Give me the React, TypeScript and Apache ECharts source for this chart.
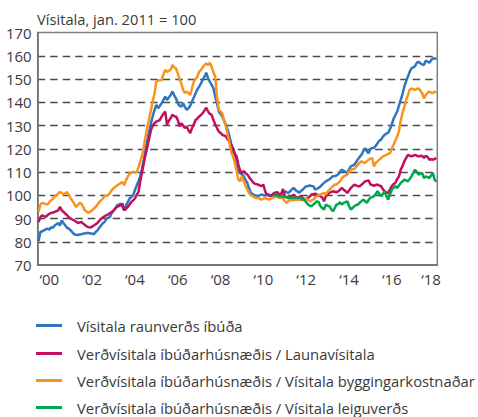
import React, { useEffect, useRef } from "react";
import * as echarts from "echarts";

const FONT = "'Open Sans', sans-serif";
const TEXT = "#3a3a3a";

const startYear = 2000;
const endYear = 2018;
const monthsInLastYear = 8;

const seriesNames = [
  "Vísitala raunverðs íbúða",
  "Verðvísitala íbúðarhúsnæðis / Launavísitala",
  "Verðvísitala íbúðarhúsnæðis / Vísitala byggingarkostnaðar",
  "Verðvísitala íbúðarhúsnæðis / Vísitala leiguverðs",
];
const colors = ["#2f75c0", "#c1105e", "#f7941d", "#00a54f"];

// Vísitala raunverðs íbúða (monthly, Jan 2000 – Aug 2018)
const realPrice = [
  80.3, 84.2, 84.5, 84.9, 85.3, 85.6, 85.2, 86.3, 86.0, 87.0, 87.5, 88.1,
  87.0, 89.2, 88.0, 87.0, 86.0, 85.6, 84.9, 84.0, 83.2, 83.0, 82.9, 83.1,
  83.2, 83.5, 83.5, 83.8, 83.8, 83.5, 83.5, 83.2, 84.2, 84.9, 86.0, 87.0,
  88.0, 88.5, 89.9, 90.3, 90.7, 92.4, 93.3, 94.3, 95.7, 96.0, 96.4, 95.0,
  93.5, 95.7, 97.0, 98.6, 99.2, 100.0, 102.2, 104.2, 106.0, 108.1, 111.5, 115.3,
  119.5, 123.9, 127.5, 131.0, 134.0, 136.7, 138.9, 137.4, 138.5, 139.6, 141.0, 142.4,
  141.0, 142.0, 143.1, 144.6, 143.0, 141.7, 139.6, 138.5, 138.1, 139.6, 138.0, 136.7,
  137.4, 138.5, 140.3, 142.0, 143.9, 145.5, 146.7, 148.1, 149.6, 151.0, 152.7, 150.3,
  148.9, 147.5, 146.0, 142.5, 139.6, 136.0, 135.0, 133.9, 132.0, 130.3, 128.0, 125.3,
  122.0, 119.0, 116.5, 114.0, 110.4, 109.5, 108.9, 108.2, 106.5, 105.3, 103.0, 101.0,
  100.5, 100.0, 99.8, 99.6, 100.0, 100.3, 100.1, 100.0, 100.2, 100.3, 99.9, 99.6,
  100.0, 100.0, 100.3, 100.5, 100.7, 101.2, 101.7, 101.3, 101.0, 101.7, 102.5, 103.2,
  102.2, 101.7, 101.0, 101.8, 102.4, 103.2, 103.9, 104.0, 104.2, 104.0, 103.9, 102.4,
  102.8, 103.2, 103.8, 104.6, 105.3, 106.0, 106.4, 106.8, 107.5, 108.2, 108.3, 108.5,
  109.0, 110.2, 111.0, 110.5, 110.0, 109.6, 111.0, 112.4, 112.8, 113.1, 114.2, 115.5,
  116.5, 117.4, 119.0, 120.3, 119.0, 118.1, 120.0, 120.3, 120.3, 121.3, 122.4, 123.5,
  123.9, 125.2, 126.0, 126.5, 126.9, 128.5, 130.5, 133.0, 134.5, 136.0, 138.5, 141.0,
  143.5, 146.7, 149.0, 151.0, 153.0, 154.6, 155.0, 155.5, 157.0, 157.4, 156.7, 156.3,
  156.0, 157.9, 157.5, 157.0, 158.0, 158.9, 158.7, 158.9,
];

// Verðvísitala íbúðarhúsnæðis / Launavísitala
const priceToWage = [
  88.5, 90.5, 91.4, 91.0, 90.7, 91.5, 92.0, 92.4, 92.6, 92.8, 93.2, 93.5,
  95.0, 93.5, 92.8, 92.0, 91.4, 90.5, 89.9, 89.5, 89.2, 88.6, 88.1, 88.3,
  88.5, 87.8, 87.2, 86.6, 86.3, 86.1, 86.5, 87.0, 87.5, 88.1, 89.0, 89.9,
  90.4, 91.0, 91.4, 91.8, 92.3, 92.8, 93.5, 94.3, 95.0, 95.3, 95.8, 96.4,
  93.5, 94.2, 95.0, 96.0, 97.1, 97.8, 98.6, 100.2, 101.5, 106.0, 110.0, 113.9,
  117.5, 121.0, 124.5, 128.1, 130.0, 131.0, 131.7, 132.0, 132.4, 133.9, 135.0, 136.0,
  130.3, 132.0, 133.1, 134.6, 134.0, 133.9, 132.4, 129.6, 131.0, 130.0, 128.9, 129.6,
  128.0, 126.7, 128.9, 130.5, 132.4, 133.0, 133.9, 134.5, 135.3, 136.5, 137.6, 136.0,
  135.0, 134.6, 132.4, 130.5, 128.9, 127.4, 126.8, 126.0, 125.7, 125.3, 124.0, 123.1,
  121.5, 120.3, 118.0, 116.7, 113.1, 110.5, 109.6, 110.4, 109.5, 108.9, 107.8, 106.8,
  105.8, 105.0, 104.8, 104.6, 104.2, 103.9, 104.6, 101.7, 100.3, 100.0, 99.6, 100.3,
  101.0, 101.2, 101.3, 100.0, 100.5, 102.7, 99.6, 99.2, 98.8, 99.2, 99.6, 100.3,
  99.5, 98.8, 99.2, 99.6, 98.8, 98.1, 98.5, 98.8, 99.5, 100.3, 100.5, 100.7,
  100.3, 99.9, 99.6, 99.0, 97.4, 99.6, 100.3, 101.0, 101.4, 101.7, 101.5, 101.3,
  101.7, 102.4, 103.1, 102.4, 101.8, 101.0, 102.0, 103.1, 103.8, 104.6, 104.2, 103.9,
  103.9, 104.5, 105.2, 106.0, 106.2, 106.4, 104.6, 104.4, 104.1, 104.4, 104.6, 104.2,
  103.9, 102.5, 101.7, 101.2, 101.0, 102.5, 103.9, 104.8, 105.3, 107.0, 108.1, 111.0,
  112.5, 114.6, 116.0, 117.4, 117.0, 116.7, 117.0, 117.4, 117.0, 116.7, 116.9, 117.0,
  116.0, 117.0, 116.5, 115.3, 115.5, 115.3, 115.6, 116.0,
];

// Verðvísitala íbúðarhúsnæðis / Vísitala byggingarkostnaðar
const priceToBuild = [
  92.8, 96.0, 96.7, 96.5, 96.2, 96.0, 97.0, 97.8, 98.5, 99.3, 100.0, 100.7,
  101.4, 101.0, 100.4, 100.8, 101.4, 100.0, 98.6, 97.5, 96.4, 95.0, 95.8, 96.7,
  96.4, 95.0, 93.5, 93.0, 92.4, 93.0, 93.5, 94.3, 95.0, 96.0, 97.1, 97.8,
  98.6, 99.6, 99.8, 100.0, 101.0, 102.2, 103.0, 103.6, 104.2, 104.7, 105.2, 105.7,
  104.3, 106.5, 108.0, 109.3, 109.8, 110.0, 109.8, 110.0, 112.0, 114.6, 117.0, 121.0,
  125.5, 129.6, 133.0, 136.7, 140.5, 143.9, 148.9, 149.3, 149.5, 149.6, 152.0, 153.9,
  153.1, 153.5, 153.9, 156.0, 155.0, 154.6, 152.4, 150.0, 148.1, 145.3, 143.9, 144.6,
  144.0, 143.1, 146.0, 148.9, 150.0, 151.0, 153.1, 153.9, 155.0, 156.0, 156.7, 156.0,
  157.0, 155.3, 153.0, 151.0, 142.4, 136.7, 136.0, 135.3, 132.0, 129.6, 126.0, 122.4,
  118.5, 116.7, 114.0, 110.5, 106.7, 106.0, 108.2, 106.0, 103.9, 102.5, 101.0, 100.0,
  99.6, 99.2, 98.8, 98.8, 98.5, 98.1, 98.5, 98.8, 98.5, 98.1, 98.5, 98.8,
  99.2, 99.6, 99.2, 98.8, 98.8, 98.8, 97.5, 96.7, 97.5, 98.1, 97.8, 97.9,
  98.1, 98.1, 98.1, 97.9, 97.8, 98.3, 98.8, 98.0, 97.4, 97.8, 98.1, 99.0,
  99.6, 100.0, 100.3, 100.6, 101.0, 100.3, 101.5, 102.4, 103.2, 103.9, 104.6, 104.6,
  105.3, 106.0, 107.4, 108.1, 108.5, 108.9, 110.0, 111.0, 111.2, 111.3, 112.2, 113.1,
  114.0, 114.6, 114.2, 113.9, 114.6, 115.3, 115.7, 116.0, 112.4, 113.9, 114.6, 115.3,
  116.0, 116.7, 117.0, 117.4, 117.8, 118.1, 120.0, 121.7, 123.5, 125.3, 127.5, 132.0,
  135.3, 138.0, 141.0, 143.0, 145.3, 146.0, 145.6, 145.3, 145.7, 146.0, 145.0, 143.9,
  141.7, 143.1, 144.0, 144.6, 144.2, 143.9, 144.6, 144.2,
];

// Verðvísitala íbúðarhúsnæðis / Vísitala leiguverðs (from Jan 2011)
const rentStartYear = 2011;
const priceToRent = [
  100.0, 100.0, 99.8, 99.6, 99.6, 99.4, 99.3, 99.1, 99.0, 99.0, 98.8, 98.8,
  98.9, 98.8, 98.8, 98.8, 98.3, 98.1, 97.0, 96.0, 95.5, 95.3, 96.0, 96.7,
  97.4, 97.0, 95.3, 94.5, 93.8, 96.0, 95.5, 95.3, 94.0, 93.1, 94.5, 96.0,
  96.2, 97.0, 96.0, 96.7, 97.0, 97.4, 95.5, 93.9, 94.5, 95.3, 95.8, 96.0,
  96.8, 97.4, 98.1, 97.5, 96.7, 98.0, 98.9, 99.2, 99.6, 100.5, 101.7, 100.5,
  99.6, 100.5, 101.7, 99.5, 98.1, 100.5, 102.4, 103.2, 103.9, 103.1, 104.2, 105.3,
  106.0, 106.7, 106.4, 106.0, 107.0, 108.1, 109.5, 111.0, 110.0, 108.9, 109.2, 109.6,
  107.4, 108.1, 107.8, 107.4, 108.5, 109.6, 106.7, 105.8,
];

const yMin = 70;
const yMax = 170;
const yStep = 10;

const categories: string[] = [];
for (let y = startYear; y <= endYear; y++) {
  const n = y === endYear ? monthsInLastYear : 12;
  for (let m = 1; m <= n; m++) categories.push(`${y}-${String(m).padStart(2, "0")}`);
}
const rentPadded: (number | null)[] = [];
for (let i = 0; i < (rentStartYear - startYear) * 12; i++) rentPadded.push(null);
priceToRent.forEach((v) => rentPadded.push(v));

const lastYearLabelIndex = (endYear - startYear) * 12 + Math.floor(monthsInLastYear / 2);

export default function App() {
  const ref = useRef<HTMLDivElement>(null);
  useEffect(() => {
    if (!ref.current) return;
    const chart = echarts.init(ref.current, null, { renderer: "svg" });
    const data = [realPrice, priceToWage, priceToBuild, rentPadded];
    const legendTops = [318, 346, 373, 400];
    chart.setOption({
      animation: false,
      textStyle: { fontFamily: FONT },
      title: {
        text: "Vísitala, jan. 2011 = 100",
        left: 32,
        top: 6,
        textStyle: { fontFamily: FONT, fontSize: 14.7, fontWeight: "normal", color: TEXT },
      },
      legend: seriesNames.map((name, i) => ({
        data: [name],
        orient: "vertical",
        left: 36,
        top: legendTops[i],
        icon: "rect",
        itemWidth: 26,
        itemHeight: 3,
        padding: 0,
        selectedMode: false,
        textStyle: {
          fontFamily: FONT,
          fontSize: 14.8,
          color: TEXT,
          padding: [0, 0, 0, 10],
        },
      })),
      grid: {
        left: 37.7,
        right: 40.7,
        top: 32.5,
        bottom: 152,
        show: true,
        borderColor: "#808080",
        borderWidth: 1.5,
        backgroundColor: "transparent",
      },
      xAxis: {
        type: "category",
        data: categories,
        boundaryGap: true,
        axisLine: { lineStyle: { color: "#6e6e6e", width: 1.5 } },
        axisTick: {
          interval: (index: number) => index % 12 === 0,
          length: 6,
          lineStyle: { color: "#6e6e6e", width: 1.5 },
        },
        axisLabel: {
          interval: (index: number) =>
            index === lastYearLabelIndex || (index < (endYear - startYear) * 12 && index % 24 === 6),
          formatter: (v: string) => "\u2018" + v.slice(2, 4),
          fontFamily: FONT,
          fontSize: 15,
          color: TEXT,
          margin: 6,
        },
        splitLine: { show: false },
      },
      yAxis: {
        type: "value",
        min: yMin,
        max: yMax,
        interval: yStep,
        axisLine: { show: true, lineStyle: { color: "#6e6e6e", width: 1.5 } },
        axisTick: { show: false },
        axisLabel: { fontFamily: FONT, fontSize: 15, color: TEXT, margin: 6 },
        splitLine: {
          show: true,
          showMinLine: false,
          showMaxLine: false,
          lineStyle: { color: "#4a4a4a", width: 1.3, type: [7.5, 5] },
        },
      },
      series: seriesNames.map((name, i) => ({
        name,
        type: "line",
        data: data[i],
        showSymbol: false,
        symbol: "none",
        connectNulls: false,
        lineStyle: { color: colors[i], width: 2.5 },
        itemStyle: { color: colors[i] },
      })),
    });
    return () => chart.dispose();
  }, []);
  return <div ref={ref} style={{ width: 478, height: 417, position: "absolute", left: 0, top: 0 }} />;
}
